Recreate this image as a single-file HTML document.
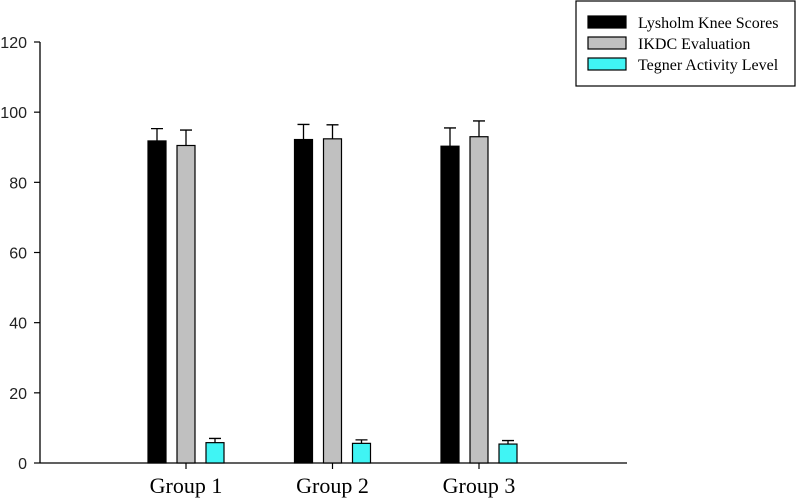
<!DOCTYPE html>
<html><head><meta charset="utf-8"><style>
html,body{margin:0;padding:0;background:#fff;}
svg{display:block;}
</style></head><body>
<svg id="chart" width="797" height="501" xmlns="http://www.w3.org/2000/svg"></svg>
<script>
const categories = ["Group 1", "Group 2", "Group 3"];
const seriesNames = ["Lysholm Knee Scores", "IKDC Evaluation", "Tegner Activity Level"];
const lysholm = [91.8, 92.2, 90.3];
const lysholmErr = [3.5, 4.3, 5.2];
const ikdc = [90.5, 92.4, 93.0];
const ikdcErr = [4.4, 4.0, 4.5];
const tegner = [5.8, 5.6, 5.4];
const tegnerErr = [1.2, 1.0, 1.0];
const yTicks = [0, 20, 40, 60, 80, 100, 120];

const NS = "http://www.w3.org/2000/svg";
const svg = document.getElementById("chart");
function mk(tag, attrs, parent) {
  const e = document.createElementNS(NS, tag);
  for (const k in attrs) e.setAttribute(k, attrs[k]);
  (parent || svg).appendChild(e);
  return e;
}
const x0 = 40, x1 = 627, yTop = 42, yBot = 463;
function yS(v) { return yBot - (v / 120) * (yBot - yTop); }
function xC(i) { return 186 + i * 146.5; }

const yAxis = mk("line", {x1: x0, y1: yTop, x2: x0, y2: yBot, stroke: "#000", "stroke-width": 1.3});


const xAxis = mk("line", {x1: x0, y1: yBot, x2: x1, y2: yBot, stroke: "#000", "stroke-width": 1.3});



yTicks.forEach(t => {
  const y = yS(t);
  const tk = mk("line", {x1: x0 - 6, y1: y, x2: x0, y2: y, stroke: "#000", "stroke-width": 1.2});
  
  
  const tx = mk("text", {x: 27, y: y + 6, "text-anchor": "end", "font-family": "Liberation Sans, sans-serif", "font-size": 16, fill: "#222"});
  tx.textContent = t;
  
  
});

const series = [[lysholm, lysholmErr, "#000000"], [ikdc, ikdcErr, "#c0c0c0"], [tegner, tegnerErr, "#40f4f4"]];
const offs = [-38, -9, 20];
categories.forEach((c, i) => {
  const cx = xC(i);
  const tk = mk("line", {x1: cx, y1: yBot, x2: cx, y2: yBot + 6, stroke: "#000", "stroke-width": 1.2});
  
  
  const lb = mk("text", {x: cx, y: 493, "text-anchor": "middle", "font-family": "Liberation Serif, serif", "font-size": 22, fill: "#000"});
  lb.textContent = c;
  
  
  series.forEach((s, j) => {
    const v = s[0][i], e = s[1][i];
    const bx = cx + offs[j];
    const r = mk("rect", {x: bx, y: yS(v), width: 18, height: yBot - yS(v), fill: s[2], stroke: "#000", "stroke-width": 1.2});
    
    
    const mx = bx + 9;
    const el = mk("path", {d: `M${mx},${yS(v)} V${yS(v + e)} M${mx - 6},${yS(v + e)} H${mx + 6}`, stroke: "#000", "stroke-width": 1.3, fill: "none"});
    
    
  });
});

const lg = mk("g", {});


mk("rect", {x: 576, y: 1, width: 219, height: 85, fill: "#fff", stroke: "#000", "stroke-width": 1.2}, lg);
seriesNames.forEach((n, j) => {
  const y = 16 + j * 21;
  const sw = mk("rect", {x: 588, y: y, width: 38, height: 12, fill: series[j][2], stroke: "#000", "stroke-width": 1.2}, lg);
  
  
  const t = mk("text", {x: 638, y: y + 12, "font-family": "Liberation Serif, serif", "font-size": 16, fill: "#000"}, lg);
  t.textContent = n;
  
  
});
</script>
</body></html>
